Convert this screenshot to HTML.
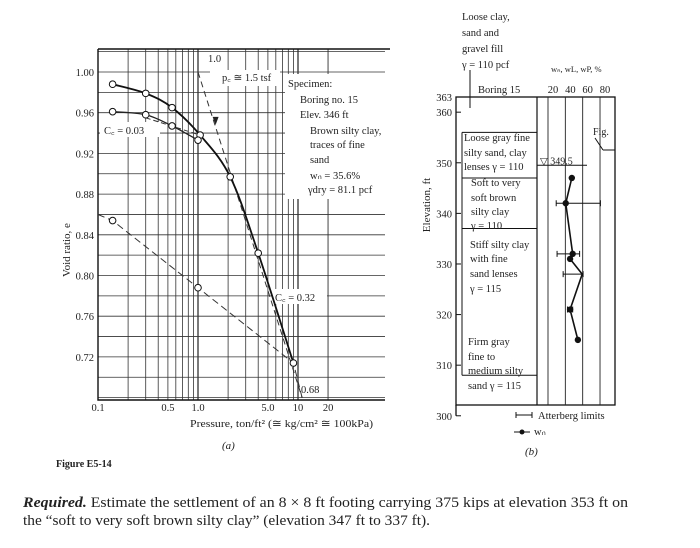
<!DOCTYPE html>
<html><head><meta charset="utf-8"><style>
html,body{margin:0;padding:0;background:#fff;}
svg{display:block;font-family:"Liberation Serif",serif;}
</style></head><body>
<svg width="700" height="548" viewBox="0 0 700 548">
<g id="ga"></g>
<g id="gb"></g>
<g fill="#222">
<text x="190" y="427" font-size="11" textLength="183" lengthAdjust="spacingAndGlyphs">Pressure, ton/ft² (≅ kg/cm² ≅ 100kPa)</text>
<text x="222" y="449" font-size="11" font-style="italic">(a)</text>
<text x="525" y="455" font-size="11" font-style="italic">(b)</text>
<text x="56" y="467" font-size="10" font-weight="bold">Figure E5-14</text>
<text x="23" y="507" font-size="14.5" textLength="605" lengthAdjust="spacingAndGlyphs"><tspan font-weight="bold" font-style="italic">Required.</tspan> Estimate the settlement of an 8 × 8 ft footing carrying 375 kips at elevation 353 ft on</text>
<text x="23" y="525" font-size="14.5" textLength="407" lengthAdjust="spacingAndGlyphs">the “soft to very soft brown silty clay” (elevation 347 ft to 337 ft).</text>
</g>
</svg>
<script>
// ---------- Chart (a) data ----------
const virginP = [0.14, 0.3, 0.55, 1.05, 2.1, 4.0, 9.0];
const virginE = [0.988, 0.979, 0.965, 0.938, 0.897, 0.822, 0.714];
const reboundP = [0.14, 0.3, 0.55, 1.0];
const reboundE = [0.961, 0.958, 0.947, 0.933];
const fieldP = [0.1, 0.14, 1.0, 9.0, 11];
const fieldE = [0.86, 0.854, 0.788, 0.714, 0.68];
const fieldMarkP = [0.14, 1.0];
const fieldMarkE = [0.854, 0.788];
const ccLineP = [1.0, 11];
const ccLineE = [1.0, 0.68];
const yTicks = [1.00, 0.96, 0.92, 0.88, 0.84, 0.80, 0.76, 0.72];
const xTickVals = [0.1, 0.5, 1.0, 5.0, 10, 20];
const xTickLabels = ["0.1", "0.5", "1.0", "5.0", "10", "20"];
// ---------- Chart (b) data ----------
const elevTicks = [363, 360, 350, 340, 330, 320, 310, 300];
const wTicks = [20, 40, 60, 80];
const wnElev = [347, 342, 332, 331, 328, 321, 315];
const wnVal = [44, 37, 45, 42, 56, 42, 51];
const attElev = [342, 332, 328, 321];
const attLo = [26, 27, 34, 39];
const attHi = [77, 53, 57, 45];
const layerElev = [356, 347, 337, 308];

const NS = "http://www.w3.org/2000/svg";
function mk(parent, tag, attrs, text) {
  const e = document.createElementNS(NS, tag);
  for (const k in attrs) e.setAttribute(k, attrs[k]);
  if (text !== undefined) e.textContent = text;
  parent.appendChild(e);
  return e;
}
const X = p => 98 + (Math.log10(p) + 1) * 100;
const Y = e => 72 + (1.0 - e) / 0.04 * 40.7;
const ga = document.getElementById("ga");
const L = 98, R = 385, T = 49, B = 400;

const gridG = mk(ga, "g", {stroke: "#333", "stroke-width": "0.8"});


for (let e = 0.68; e <= 1.021; e += 0.02) {
  const l = mk(gridG, "line", {x1: L, x2: R, y1: Y(e), y2: Y(e)});
  
  
}
const vlist = [];
for (let d of [0.1, 1, 10]) for (let m = 1; m <= 9; m++) if (d * m <= 20) vlist.push(d * m);
vlist.push(20);
vlist.forEach(p => {
  const l = mk(gridG, "line", {x1: X(p), x2: X(p), y1: T, y2: B, "stroke-width": (p === 1 || p === 10) ? 1.3 : 0.8});
  
  
});
const frame = mk(ga, "path", {d: `M${L},${T} H${R+5} M${L},${T} V${B} H${R}`, stroke: "#111", "stroke-width": 1.4, fill: "none"});



yTicks.forEach(v => {
  const t = mk(ga, "text", {x: L - 4, y: Y(v) + 4, "font-size": 10.5, "text-anchor": "end", fill: "#222"}, v.toFixed(2));
  
  
});
xTickVals.forEach((v, i) => {
  const t = mk(ga, "text", {x: X(v), y: B + 11, "font-size": 10.5, "text-anchor": "middle", fill: "#222"}, xTickLabels[i]);
  
  
});
const yt = mk(ga, "text", {x: 0, y: 0, "font-size": 11, "text-anchor": "middle", transform: "translate(70,250) rotate(-90)", fill: "#222"}, "Void ratio, e");



[[285, 74, 100, 125], [210, 70, 70, 16], [100, 122, 60, 15], [272, 289, 55, 15]].forEach(r => {
  const b = mk(ga, "rect", {x: r[0], y: r[1], width: r[2], height: r[3], fill: "#fff"});
  
  
});

function pathFrom(ps, es) { return ps.map((p, i) => (i ? "L" : "M") + X(p).toFixed(1) + "," + Y(es[i]).toFixed(1)).join(" "); }
function smoothFrom(ps, es) {
  const pts = ps.map((p, i) => [X(p), Y(es[i])]);
  let d = `M${pts[0][0]},${pts[0][1]}`;
  for (let i = 0; i < pts.length - 1; i++) {
    const p0 = pts[i - 1] || pts[i], p1 = pts[i], p2 = pts[i + 1], p3 = pts[i + 2] || p2;
    d += ` C${p1[0] + (p2[0] - p0[0]) / 6},${p1[1] + (p2[1] - p0[1]) / 6} ${p2[0] - (p3[0] - p1[0]) / 6},${p2[1] - (p3[1] - p1[1]) / 6} ${p2[0]},${p2[1]}`;
  }
  return d;
}
const cc = mk(ga, "path", {d: pathFrom(ccLineP, ccLineE), stroke: "#333", "stroke-width": 1, "stroke-dasharray": "6,4", fill: "none"});


const fl = mk(ga, "path", {d: pathFrom(fieldP, fieldE), stroke: "#333", "stroke-width": 1, "stroke-dasharray": "7,4", fill: "none"});


const rb = mk(ga, "path", {d: smoothFrom(reboundP, reboundE), stroke: "#222", "stroke-width": 1.3, fill: "none"});


const rb2 = mk(ga, "path", {d: pathFrom([0.3, 1.05], [0.955, 0.938]), stroke: "#333", "stroke-width": 1, "stroke-dasharray": "5,3", fill: "none"});


const vc = mk(ga, "path", {d: smoothFrom(virginP, virginE), stroke: "#111", "stroke-width": 1.8, fill: "none"});


function marks(ps, es, name) {
  ps.forEach((p, i) => {
    const c = mk(ga, "circle", {cx: X(p), cy: Y(es[i]), r: 3.3, fill: "#fff", stroke: "#111", "stroke-width": 1});
    
    
  });
}
marks(virginP, virginE, "virgin-point");
marks(reboundP, reboundE, "rebound-point");
marks(fieldMarkP, fieldMarkE, "field-point");
const ar = mk(ga, "path", {d: `M${X(1.5)},${Y(0.948)} l-3,-8 l6,0 z`, fill: "#222"});



const ann = [
  [208, 62, "1.0"], [222, 81, "p꜀ ≅ 1.5 tsf"], [288, 87, "Specimen:"], [300, 103, "Boring no. 15"],
  [300, 118, "Elev. 346 ft"], [310, 134, "Brown silty clay,"], [310, 148, "traces of fine"],
  [310, 163, "sand"], [310, 179, "wₙ = 35.6%"], [308, 193, "γdry = 81.1 pcf"],
  [104, 134, "C꜀ = 0.03"], [275, 301, "C꜀ = 0.32"], [301, 393, "0.68"]
];
ann.forEach(a => {
  const t = mk(ga, "text", {x: a[0], y: a[1], "font-size": 10.5, fill: "#222"}, a[2]);
  
  
});

// ---------- Chart (b) ----------
const gb = document.getElementById("gb");
const EY = el => 97 + (363 - el) * 5.06;
const WX = w => 551 + (w - 20) * 0.867;
const FL = 456, FR = 615, FT = EY(363), FB = 405, COL = 537;
const fr = mk(gb, "rect", {x: FL, y: FT, width: FR - FL, height: FB - FT, fill: "none", stroke: "#111", "stroke-width": 1.3});


const cl = mk(gb, "line", {x1: COL, x2: COL, y1: FT, y2: FB, stroke: "#111", "stroke-width": 1.2});


wTicks.forEach(w => {
  const l = mk(gb, "line", {x1: WX(w) - 3, x2: WX(w) - 3, y1: FT, y2: FB, stroke: "#222", "stroke-width": 0.9});
  
  
  const t = mk(gb, "text", {x: WX(w) + 2, y: FT - 4, "font-size": 10.5, "text-anchor": "middle", fill: "#222"}, String(w));
  
  
});
layerElev.forEach(el => {
  const l = mk(gb, "line", {x1: 462, x2: COL, y1: EY(el), y2: EY(el), stroke: "#111", "stroke-width": 1});
  
  
});
const ll = mk(gb, "line", {x1: 462, x2: 462, y1: EY(356), y2: EY(308), stroke: "#111", "stroke-width": 1});


elevTicks.forEach(el => {
  const t = mk(gb, "text", {x: FL - 4, y: EY(el) + 4, "font-size": 10.5, "text-anchor": "end", fill: "#222"}, String(el));
  
  
  const l = mk(gb, "line", {x1: FL, x2: FL + 5, y1: EY(el), y2: EY(el), stroke: "#111"});
  
  
});
const axL = mk(gb, "line", {x1: FL, x2: FL, y1: FB, y2: EY(300), stroke: "#111", "stroke-width": 1.3});


const et = mk(gb, "text", {x: 0, y: 0, "font-size": 11, "text-anchor": "middle", transform: "translate(430,205) rotate(-90)", fill: "#222"}, "Elevation, ft");


const wt = mk(gb, "line", {x1: COL, x2: 587, y1: EY(349.5), y2: EY(349.5), stroke: "#111"});


const wts = mk(gb, "text", {x: 540, y: EY(349.5) - 1, "font-size": 10, fill: "#222"}, "▽ 349.5");


const fg = mk(gb, "path", {d: "M603,150 H615 M603,150 L595,138", stroke: "#111", fill: "none"});


const fgt = mk(gb, "text", {x: 593, y: 135, "font-size": 10, fill: "#222"}, "Fig.");


attElev.forEach((el, i) => {
  const y = EY(el);
  const b = mk(gb, "path", {d: `M${WX(attLo[i])},${y} H${WX(attHi[i])} M${WX(attLo[i])},${y-3} v6 M${WX(attHi[i])},${y-3} v6`, stroke: "#111", fill: "none"});
  
  
});
const wl = mk(gb, "path", {d: wnVal.map((w, i) => (i ? "L" : "M") + WX(w) + "," + EY(wnElev[i])).join(" "), stroke: "#111", "stroke-width": 1.6, fill: "none"});


wnVal.forEach((w, i) => {
  if (i === 4) return;
  const c = mk(gb, "circle", {cx: WX(w), cy: EY(wnElev[i]), r: 3.2, fill: "#111"});
  
  
});
const btxt = [
  [462, 20, "Loose clay,"], [462, 36, "sand and"], [462, 52, "gravel fill"], [462, 68, "γ = 110 pcf"],
  [478, 93, "Boring 15"], [551, 72, "wₙ, wL, wP, %"],
  [464, 141, "Loose gray fine"], [464, 156, "silty sand, clay"], [464, 170, "lenses γ = 110"],
  [471, 186, "Soft to very"], [471, 201, "soft brown"], [471, 215, "silty clay"], [471, 229, "γ = 110"],
  [470, 248, "Stiff silty clay"], [470, 262, "with fine"], [470, 277, "sand lenses"], [470, 292, "γ = 115"],
  [468, 345, "Firm gray"], [468, 360, "fine to"], [468, 374, "medium silty"], [468, 389, "sand γ = 115"],
  [538, 419, "Atterberg limits"], [534, 435, "wₙ"]
];
btxt.forEach(a => {
  const t = mk(gb, "text", {x: a[0], y: a[1], "font-size": a[2].startsWith("wₙ,") ? 8.5 : 10.5, fill: "#222"}, a[2]);
  
  
});
const lg = mk(gb, "path", {d: "M516,415 H532 M516,412 v6 M532,412 v6 M514,432 H530", stroke: "#111", fill: "none"});


const lgd = mk(gb, "circle", {cx: 522, cy: 432, r: 2.5, fill: "#111"});


const bl = mk(gb, "line", {x1: 470, x2: 470, y1: 70, y2: 108, stroke: "#111"});


</script>
</body></html>
